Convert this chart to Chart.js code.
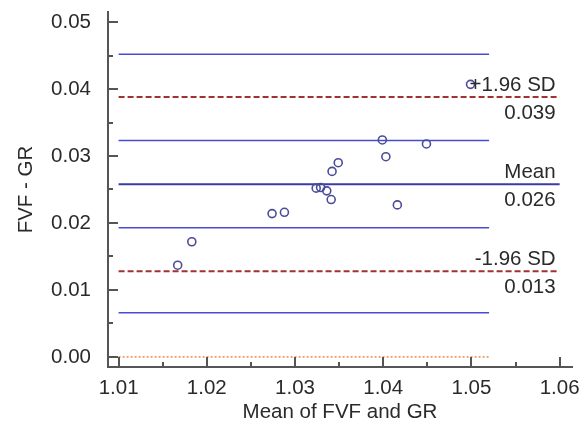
<!DOCTYPE html>
<html>
<head>
<meta charset="UTF-8" />
<title>Bland-Altman FVF vs GR</title>
<script src="https://cdn.jsdelivr.net/npm/chart.js"></script>
<style>
  html, body { margin: 0; padding: 0; background: #fff; }
  #wrap { width: 587px; height: 425px; }
</style>
</head>
<body>
<div id="wrap"><canvas id="grafico"></canvas></div>
<script>
  // dados
  var meanFvfGr = [1.0167, 1.0183, 1.0274, 1.0288, 1.0324, 1.0329, 1.0336, 1.0341, 1.0342, 1.0349, 1.0399, 1.0403, 1.0416, 1.0449, 1.0499];
  var diffFvfGr = [0.0137, 0.0172, 0.0214, 0.0216, 0.0252, 0.0253, 0.0248, 0.0235, 0.0277, 0.0290, 0.0324, 0.0299, 0.0227, 0.0318, 0.0407];

  var meanDiff = 0.0258;
  var upperLoA = 0.0388;
  var lowerLoA = 0.0128;
  var ciLevels = [0.0452, 0.0323, 0.0193, 0.0066];
  var zeroLevel = 0;

  var lineStart = 1.01;
  var ciEnd = 1.052;
  var loaEnd = 1.06;

  var xTicks = [1.01, 1.02, 1.03, 1.04, 1.05, 1.06];
  var yTicks = [0.00, 0.01, 0.02, 0.03, 0.04, 0.05];
  var annoLevels = [upperLoA, meanDiff, lowerLoA];
  var annoLabels = ["+1.96 SD", "Mean", "-1.96 SD"];
  var annoValues = ["0.039", "0.026", "0.013"];

  var fonte = "'Liberation Sans', Arial, sans-serif";
  var tamFonte = 20.5;
  var corTexto = "#2a2a2a";
  var corEixo = "#555555";

  function linha(y, x0, x1) {
    return [{ x: x0, y: y }, { x: x1, y: y }];
  }

  var datasets = [
    {
      label: "pontos",
      data: meanFvfGr.map(function (m, i) { return { x: m, y: diffFvfGr[i] }; }),
      pointStyle: "circle",
      pointRadius: 4,
      borderColor: "#4b4b9c",
      backgroundColor: "rgba(0,0,0,0)",
      borderWidth: 1.6,
      showLine: false
    },
    {
      label: "mean",
      data: linha(meanDiff, lineStart, loaEnd),
      borderColor: "#3b3ba8",
      borderWidth: 2,
      pointRadius: 0,
      showLine: true
    },
    {
      label: "upper",
      data: linha(upperLoA, lineStart, loaEnd),
      borderColor: "#a03232",
      borderWidth: 2,
      borderDash: [6, 3],
      pointRadius: 0,
      showLine: true
    },
    {
      label: "lower",
      data: linha(lowerLoA, lineStart, loaEnd),
      borderColor: "#a03232",
      borderWidth: 2,
      borderDash: [6, 3],
      pointRadius: 0,
      showLine: true
    },
    {
      label: "zero",
      data: linha(zeroLevel, lineStart, ciEnd),
      borderColor: "#ee8844",
      borderWidth: 1.5,
      borderDash: [2, 2],
      pointRadius: 0,
      showLine: true
    }
  ];

  ciLevels.forEach(function (v, i) {
    datasets.push({
      label: "ci" + i,
      data: linha(v, lineStart, ciEnd),
      borderColor: "#4a4ad2",
      borderWidth: 1.5,
      pointRadius: 0,
      showLine: true
    });
  });

  // marcas de escala para dentro (maiores e menores)
  var marcasInternas = {
    id: "marcasInternas",
    afterDatasetsDraw: function (chart) {
      var ctx = chart.ctx;
      var xs = chart.scales.x;
      var ys = chart.scales.y;
      var area = chart.chartArea;
      ctx.save();
      ctx.strokeStyle = corEixo;
      ctx.lineWidth = 2;
      ctx.beginPath();
      xTicks.forEach(function (v, i) {
        var px = Math.round(xs.getPixelForValue(v));
        ctx.moveTo(px, area.bottom);
        ctx.lineTo(px, area.bottom - 10);
        if (i < xTicks.length - 1) {
          var pm = Math.round(xs.getPixelForValue(v + 0.005));
          ctx.moveTo(pm, area.bottom);
          ctx.lineTo(pm, area.bottom - 5);
        }
      });
      yTicks.forEach(function (v, i) {
        var py = Math.round(ys.getPixelForValue(v));
        ctx.moveTo(area.left, py);
        ctx.lineTo(area.left + 10, py);
        if (i < yTicks.length - 1) {
          var pm = Math.round(ys.getPixelForValue(v + 0.005));
          ctx.moveTo(area.left, pm);
          ctx.lineTo(area.left + 5, pm);
        }
      });
      ctx.stroke();

      // textos das linhas de concordancia
      ctx.fillStyle = corTexto;
      ctx.font = tamFonte + "px " + fonte;
      ctx.textAlign = "right";
      ctx.textBaseline = "alphabetic";
      var xr = xs.getPixelForValue(loaEnd) - 4;
      annoLevels.forEach(function (v, i) {
        var py = ys.getPixelForValue(v);
        ctx.fillText(annoLabels[i], xr, py - 6);
        ctx.fillText(annoValues[i], xr, py + 22);
      });
      ctx.restore();
    }
  };

  new Chart(document.getElementById("grafico"), {
    type: "scatter",
    data: { datasets: datasets },
    options: {
      responsive: true,
      maintainAspectRatio: false,
      animation: false,
      layout: { padding: { top: 12, right: 15, bottom: 0, left: 0 } },
      plugins: {
        legend: { display: false },
        tooltip: { enabled: false }
      },
      scales: {
        x: {
          type: "linear",
          min: 1.0088,
          max: 1.0614,
          afterBuildTicks: function (scale) {
            scale.ticks = xTicks.map(function (v) { return { value: v }; });
          },
          afterFit: function (scale) {
            scale.height = 58;
            scale.paddingLeft = 0;
            scale.paddingRight = 0;
          },
          grid: { display: false },
          border: { display: true, color: corEixo, width: 2 },
          ticks: {
            color: corTexto,
            font: { family: fonte, size: tamFonte },
            padding: 1,
            maxRotation: 0,
            callback: function (v) { return v.toFixed(2); }
          },
          title: {
            display: true,
            text: "Mean of FVF and GR",
            color: corTexto,
            font: { family: fonte, size: tamFonte, lineHeight: 1.2 },
            padding: { top: 0, bottom: 0 }
          }
        },
        y: {
          type: "linear",
          min: -0.0015,
          max: 0.0515,
          afterBuildTicks: function (scale) {
            scale.ticks = yTicks.map(function (v) { return { value: v }; });
          },
          afterFit: function (scale) {
            scale.width = 108;
            scale.paddingTop = 0;
            scale.paddingBottom = 0;
          },
          grid: { display: false },
          border: { display: true, color: corEixo, width: 2 },
          ticks: {
            color: corTexto,
            font: { family: fonte, size: tamFonte },
            padding: 9,
            callback: function (v) { return v.toFixed(2); }
          },
          title: {
            display: true,
            text: "FVF - GR",
            color: corTexto,
            font: { family: fonte, size: tamFonte, lineHeight: 1.2 },
            padding: { top: 14, bottom: 0 }
          }
        }
      }
    },
    plugins: [marcasInternas]
  });
</script>
</body>
</html>
